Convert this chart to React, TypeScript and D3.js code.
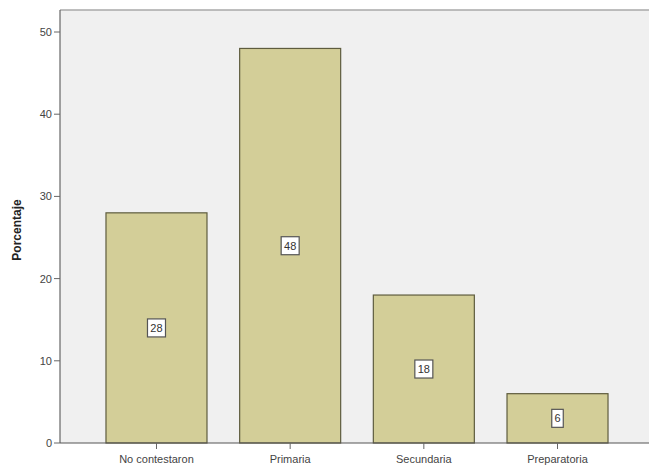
import React from "react";
import * as d3 from "d3";

const categories = ["No contestaron", "Primaria", "Secundaria", "Preparatoria"];
const values = [28, 48, 18, 6];
const yTicks = [0, 10, 20, 30, 40, 50];

const W = 649;
const H = 472;
const plot = { left: 60, right: 654, top: 10, bottom: 443 };

export default function App() {
  const x = d3
    .scaleBand<string>()
    .domain(categories)
    .range([plot.left, plot.right])
    .paddingInner(0.2444)
    .paddingOuter(0.344);
  const y = d3.scaleLinear().domain([0, 50]).range([plot.bottom, 32]);

  const font = "Arial, 'Liberation Sans', sans-serif";

  return (
    <svg
      width={W}
      height={H}
      style={{ position: "absolute", left: 0, top: 0, background: "#fff" }}
    >
      {/* plot frame */}
      <rect
        x={plot.left}
        y={plot.top}
        width={plot.right - plot.left}
        height={plot.bottom - plot.top}
        fill="#F0F0F0"
      />
      <line x1={plot.left} x2={plot.right} y1={plot.top} y2={plot.top} stroke="#A8A8A8" strokeWidth={1.5} />

      {/* bars */}
      {categories.map((c, i) => {
        const x0 = x(c)!;
        const bw = x.bandwidth();
        const yTop = y(values[i]);
        const yMid = (yTop + y(0)) / 2;
        const cx = x0 + bw / 2;
        const boxW = String(values[i]).length * 6.5 + 5;
        return (
          <g key={c}>
            <rect
              x={x0}
              y={yTop}
              width={bw}
              height={y(0) - yTop}
              fill="#D3CE98"
              stroke="#5E5C3E"
              strokeWidth={1.2}
            />
            <rect
              x={cx - boxW / 2}
              y={yMid - 9}
              width={boxW}
              height={18}
              fill="#fff"
              stroke="#555"
              strokeWidth={1.2}
            />
            <text
              x={cx}
              y={yMid + 4}
              textAnchor="middle"
              fontFamily={font}
              fontSize={11}
              fill="#333"
            >
              {values[i]}
            </text>
          </g>
        );
      })}

      {/* y axis */}
      <line x1={plot.left} x2={plot.left} y1={plot.top} y2={plot.bottom} stroke="#666" strokeWidth={1.2} />
      {yTicks.map((t) => (
        <g key={t}>
          <line x1={plot.left - 6} x2={plot.left} y1={y(t)} y2={y(t)} stroke="#666" />
          <text
            x={plot.left - 8}
            y={y(t) + 4}
            textAnchor="end"
            fontFamily={font}
            fontSize={11}
            fill="#444"
          >
            {t}
          </text>
        </g>
      ))}
      <text
        transform={`translate(21, 230) rotate(-90)`}
        textAnchor="middle"
        fontFamily={font}
        fontSize={12}
        fontWeight="bold"
        fill="#222"
      >
        Porcentaje
      </text>

      {/* x axis */}
      <line x1={plot.left} x2={plot.right} y1={plot.bottom} y2={plot.bottom} stroke="#555" strokeWidth={1.2} />
      {categories.map((c) => {
        const cx = x(c)! + x.bandwidth() / 2;
        return (
          <g key={c}>
            <line x1={cx} x2={cx} y1={plot.bottom} y2={plot.bottom + 6} stroke="#666" />
            <text
              x={cx}
              y={plot.bottom + 20}
              textAnchor="middle"
              fontFamily={font}
              fontSize={11}
              fill="#444"
            >
              {c}
            </text>
          </g>
        );
      })}
    </svg>
  );
}
